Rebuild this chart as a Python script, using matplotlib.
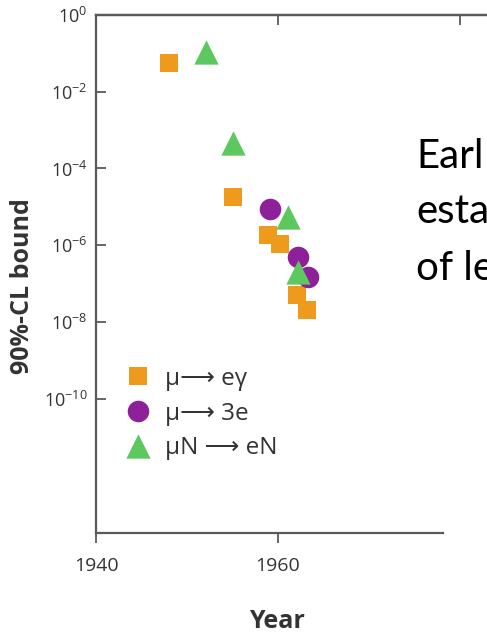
import matplotlib
matplotlib.use("Agg")
import matplotlib.pyplot as plt
from matplotlib.ticker import FixedLocator, NullLocator

# ---- data ----
ey_years = [1948.0, 1955.1, 1958.9, 1960.2, 1962.1, 1963.2]
ey_bounds = [5.5e-2, 1.8e-5, 1.8e-6, 1.1e-6, 5.0e-8, 2.0e-8]

e3_years = [1959.1, 1962.2, 1963.3]
e3_bounds = [9.0e-6, 4.9e-7, 1.5e-7]

mn_years = [1952.1, 1955.1, 1961.1, 1962.2]
mn_bounds = [1.1e-1, 4.5e-4, 5.4e-6, 2.0e-7]

labels = ["\u03bc\u27f6 e\u03b3", "\u03bc\u27f6 3e", "\u03bcN \u27f6 eN"]
ytick_exps = [0, -2, -4, -6, -8, -10]
xtick_years = [1940, 1960]
side_text = ["Earl", "esta", "of le"]

# ---- style ----
plt.rcParams['font.family'] = ['Open Sans', 'DejaVu Sans']
plt.rcParams['mathtext.fontset'] = 'custom'
plt.rcParams['mathtext.rm'] = 'Open Sans'
plt.rcParams['mathtext.it'] = 'Open Sans'
orange = '#EE9A1C'
purple = '#8E2099'
green = '#5CC85E'
axcol = '#5a5a5a'
txtcol = '#333333'

W, H = 487, 633
fig = plt.figure(figsize=(W / 100, H / 100), dpi=100)
ax = fig.add_axes([96 / W, 1 - 533 / H, (487 - 96) / W, (533 - 15) / H])

ax.scatter(ey_years, ey_bounds, marker='s', s=13 ** 2, color=orange, linewidths=0, zorder=3, label=labels[0])
ax.scatter(e3_years, e3_bounds, marker='o', s=15.5 ** 2, color=purple, linewidths=0, zorder=4, label=labels[1])
ax.scatter(mn_years, mn_bounds, marker='^', s=17.5 ** 2, color=green, linewidths=0, zorder=5, label=labels[2])

ax.set_yscale('log')
ax.set_ylim(10 ** -13.5, 1)
ax.set_xlim(1940, 1940 + 391 / 9.1)

ax.yaxis.set_major_locator(FixedLocator([10.0 ** e for e in ytick_exps]))
ax.yaxis.set_minor_locator(NullLocator())
ax.set_yticklabels([r'$\mathregular{10^{%d}}$' % e for e in ytick_exps])
ax.set_xticks(xtick_years)
ax.set_xticklabels([str(y) for y in xtick_years])

for s in ['left', 'top', 'bottom']:
    ax.spines[s].set_color(axcol)
    ax.spines[s].set_linewidth(1.6)
ax.spines['right'].set_visible(False)
ax.spines['bottom'].set_bounds(1940, 1940 + (443 - 96) / 9.1)

ax.tick_params(axis='y', direction='in', length=7, width=1.3, color=axcol,
               pad=6, labelsize=13, labelcolor=txtcol)
ax.tick_params(axis='x', direction='out', length=7, width=1.3, color=axcol,
               pad=10, labelsize=14, labelcolor=txtcol)

sec = ax.secondary_xaxis('top')
sec.set_xticks([1940, 1960, 1980])
sec.tick_params(direction='in', length=7, width=1.3, color=axcol, labeltop=False)
sec.spines['top'].set_color(axcol)
sec.spines['top'].set_linewidth(1.6)

ax.set_ylabel('90%-CL bound', fontsize=18, fontweight='bold', color=txtcol,
              ha='center', va='center')
ax.yaxis.set_label_coords((23 - 96) / 391, (533 - 286) / 518)
ax.set_xlabel('Year', fontsize=18, fontweight='bold', color=txtcol, va='center')
ax.xaxis.set_label_coords((277 - 96) / 391, (533 - 621) / 518)

leg = ax.legend(loc='upper left', bbox_to_anchor=((128.3 - 96) / 391, (533 - 367) / 518),
                frameon=False, fontsize=17.5, labelcolor=txtcol, handletextpad=0.71,
                handlelength=0.8, labelspacing=0.44, borderaxespad=0, borderpad=0,
                scatteryoffsets=[0.5])

baselines = [168, 223, 280]
for t, b in zip(side_text, baselines):
    fig.text(416 / W, 1 - b / H, t, fontsize=29, family='Lato', color='black',
             va='baseline', ha='left')

fig.savefig('out.png', dpi=100)
